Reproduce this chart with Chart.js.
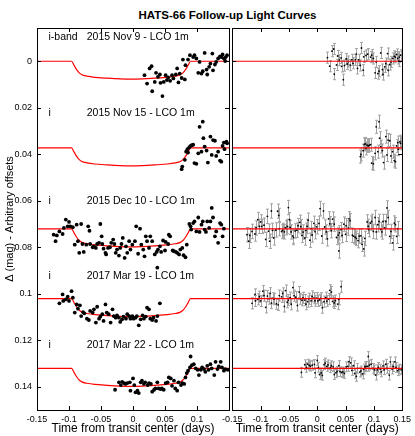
<!DOCTYPE html>
<html>
<head>
<meta charset="utf-8">
<script src="https://cdn.jsdelivr.net/npm/chart.js@4.4.1/dist/chart.umd.min.js"></script>
<style>
  html, body { margin: 0; padding: 0; background: #fff; overflow: hidden; }
  #wrap { position: relative; width: 415px; height: 436px; }
  #title {
    position: absolute; left: 117.5px; width: 220px; top: 8px;
    font: bold 11.5px "Liberation Sans", Arial, sans-serif; line-height: 14px;
    text-align: center; color: #000;
  }
  canvas { position: absolute; top: 0; }
  #lc { left: 0; }
  #rc { left: 218px; }
</style>
</head>
<body>
<div id="wrap">
  <div id="title">HATS-66 Follow-up Light Curves</div>
  <canvas id="lc" width="240" height="436"></canvas>
  <canvas id="rc" width="197" height="436"></canvas>
</div>
<script>
const xTicks = [-0.15, -0.1, -0.05, 0, 0.05, 0.1, 0.15]
const yTicks = [0, 0.02, 0.04, 0.06, 0.08, 0.1, 0.12, 0.14]

const bands = ['i-band', 'i', 'i', 'i', 'i']
const nights = ['2015 Nov 9 - LCO 1m', '2015 Nov 15 - LCO 1m', '2015 Dec 10 - LCO 1m', '2017 Mar 19 - LCO 1m', '2017 Mar 22 - LCO 1m']
const offsets = [0, 0.0373, 0.0721, 0.1021, 0.1321]
const labelY = [-0.0102, 0.0222, 0.0600, 0.0926, 0.1223]
// half size of the residual error bars, per night
const nightErr = [0.0024, 0.0028, 0.0031, 0.0024, 0.0021]

// transit model, depth below each night's baseline
const modelTime = [-0.15, -0.096, -0.092, -0.088, -0.084, -0.080, -0.072, -0.060, -0.040, -0.020, -0.003, 0.014, 0.034, 0.054, 0.066, 0.074, 0.078, 0.082, 0.086, 0.090, 0.15]
const modelDepth = [0, 0, 0.0018, 0.0036, 0.0050, 0.0058, 0.0064, 0.0069, 0.0073, 0.0076, 0.0077, 0.0076, 0.0073, 0.0069, 0.0064, 0.0058, 0.0050, 0.0036, 0.0018, 0, 0]

const nov9Time = [0.018, 0.022, 0.026, 0.029, 0.030, 0.034, 0.036, 0.039, 0.042, 0.043, 0.046, 0.048, 0.051, 0.053, 0.055, 0.058, 0.061, 0.063, 0.067, 0.069, 0.071, 0.073, 0.076, 0.078, 0.081, 0.082, 0.086, 0.089, 0.094, 0.096, 0.099, 0.102, 0.104, 0.107, 0.109, 0.112, 0.115, 0.116, 0.119, 0.121, 0.124, 0.125, 0.128, 0.130, 0.133, 0.136, 0.138, 0.140, 0.142, 0.145, 0.147, 0.144]
const nov9Mag = [0.0060, 0.0096, 0.0031, 0.0021, 0.0129, 0.0089, 0.0050, 0.0067, 0.0057, 0.0093, 0.0150, 0.0089, 0.0060, 0.0081, 0.0070, 0.0084, 0.0060, 0.0074, 0.0057, 0.0031, 0.0091, 0.0053, 0.0072, -0.0007, 0.0078, 0.0017, -0.0007, -0.0026, -0.0018, -0.0026, -0.0012, 0.0050, 0.0003, 0.0053, 0.0043, -0.0036, 0.0036, 0.0057, 0.0024, 0.0010, -0.0033, 0.0039, 0.0014, 0.0003, -0.0012, -0.0021, -0.0018, -0.0029, -0.0012, -0.0018, -0.0026, -0.0001]

const nov15Time = [0.076, 0.077, 0.081, 0.083, 0.085, 0.086, 0.088, 0.090, 0.092, 0.094, 0.096, 0.099, 0.102, 0.104, 0.107, 0.109, 0.110, 0.112, 0.115, 0.117, 0.121, 0.123, 0.125, 0.128, 0.130, 0.133, 0.136, 0.138, 0.140, 0.142, 0.143, 0.146, 0.147]
const nov15Mag = [0.0464, 0.0453, 0.0424, 0.0389, 0.0378, 0.0393, 0.0370, 0.0364, 0.0361, 0.0359, 0.0438, 0.0441, 0.0396, 0.0282, 0.0389, 0.0260, 0.0331, 0.0367, 0.0384, 0.0436, 0.0324, 0.0403, 0.0339, 0.0342, 0.0407, 0.0389, 0.0427, 0.0432, 0.0364, 0.0350, 0.0378, 0.0346, 0.0353]

const dec10Time = [-0.124, -0.121, -0.119, -0.115, -0.110, -0.108, -0.105, -0.102, -0.100, -0.098, -0.094, -0.091, -0.088, -0.086, -0.084, -0.081, -0.079, -0.077, -0.073, -0.070, -0.068, -0.067, -0.063, -0.061, -0.058, -0.056, -0.053, -0.051, -0.049, -0.048, -0.046, -0.043, -0.042, -0.039, -0.036, -0.034, -0.031, -0.029, -0.027, -0.025, -0.022, -0.020, -0.018, -0.016, -0.013, -0.011, -0.009, -0.006, -0.004, -0.001, 0.003, 0.005, 0.008, 0.011, 0.013, 0.016, 0.018, 0.020, 0.022, 0.025, 0.027, 0.030, 0.034, 0.037, 0.038, 0.039, 0.042, 0.044, 0.047, 0.050, 0.051, 0.055, 0.056, 0.058, 0.062, 0.064, 0.067, 0.069, 0.072, 0.074, 0.077, 0.079, 0.082, 0.084, 0.088, 0.090, 0.091, 0.094, 0.096, 0.099, 0.102, 0.104, 0.107, 0.109, 0.112, 0.114, 0.116, 0.119, 0.121, 0.123, 0.125, 0.128, 0.130, 0.133, 0.136, 0.138, 0.140, 0.142]
const dec10Mag = [0.0746, 0.0774, 0.0749, 0.0732, 0.0743, 0.0717, 0.0681, 0.0710, 0.0691, 0.0710, 0.0714, 0.0789, 0.0703, 0.0774, 0.0824, 0.0700, 0.0786, 0.0820, 0.0789, 0.0710, 0.0729, 0.0786, 0.0800, 0.0796, 0.0803, 0.0786, 0.0781, 0.0700, 0.0753, 0.0786, 0.0806, 0.0824, 0.0831, 0.0803, 0.0800, 0.0781, 0.0767, 0.0786, 0.0824, 0.0810, 0.0836, 0.0803, 0.0786, 0.0760, 0.0846, 0.0796, 0.0824, 0.0774, 0.0810, 0.0789, 0.0774, 0.0710, 0.0828, 0.0720, 0.0789, 0.0810, 0.0839, 0.0753, 0.0774, 0.0803, 0.0753, 0.0774, 0.0831, 0.0820, 0.0888, 0.0810, 0.0796, 0.0820, 0.0771, 0.0814, 0.0777, 0.0786, 0.0746, 0.0753, 0.0814, 0.0817, 0.0820, 0.0824, 0.0831, 0.0810, 0.0803, 0.0834, 0.0843, 0.0789, 0.0700, 0.0710, 0.0724, 0.0696, 0.0689, 0.0732, 0.0672, 0.0734, 0.0703, 0.0689, 0.0724, 0.0734, 0.0689, 0.0717, 0.0689, 0.0631, 0.0672, 0.0753, 0.0732, 0.0781, 0.0696, 0.0703, 0.0753, 0.0720]

const mar19Time = [-0.115, -0.110, -0.109, -0.105, -0.102, -0.100, -0.096, -0.094, -0.091, -0.088, -0.086, -0.083, -0.081, -0.078, -0.076, -0.072, -0.069, -0.067, -0.063, -0.061, -0.058, -0.056, -0.053, -0.051, -0.048, -0.046, -0.043, -0.041, -0.038, -0.035, -0.032, -0.030, -0.027, -0.025, -0.022, -0.020, -0.017, -0.015, -0.011, -0.009, -0.006, -0.004, -0.001, 0.001, 0.004, 0.006, 0.009, 0.012, 0.015, 0.017, 0.020, 0.022, 0.025, 0.027, 0.030, 0.032, 0.036, 0.038, 0.042]
const mar19Mag = [0.1041, 0.1003, 0.1031, 0.1024, 0.1013, 0.1031, 0.0989, 0.1017, 0.1081, 0.1046, 0.1064, 0.1050, 0.1096, 0.1079, 0.1084, 0.1107, 0.1113, 0.1074, 0.1081, 0.1067, 0.1124, 0.1056, 0.1107, 0.1098, 0.1088, 0.1117, 0.1046, 0.1081, 0.1088, 0.1124, 0.1067, 0.1096, 0.1103, 0.1093, 0.1103, 0.1121, 0.1110, 0.1098, 0.1107, 0.1088, 0.1096, 0.1107, 0.1096, 0.1107, 0.1103, 0.1096, 0.1136, 0.1110, 0.1093, 0.1107, 0.1098, 0.1060, 0.1067, 0.1107, 0.1113, 0.1103, 0.1117, 0.1096, 0.1041]

const mar22Time = [-0.028, -0.022, -0.019, -0.017, -0.014, -0.012, -0.009, -0.005, -0.004, 0.000, 0.002, 0.004, 0.007, 0.009, 0.012, 0.014, 0.017, 0.019, 0.023, 0.025, 0.028, 0.030, 0.033, 0.035, 0.038, 0.040, 0.043, 0.045, 0.048, 0.051, 0.054, 0.056, 0.059, 0.061, 0.064, 0.066, 0.069, 0.071, 0.075, 0.077, 0.080, 0.082, 0.084, 0.086, 0.089, 0.090, 0.092, 0.095, 0.098, 0.101, 0.103, 0.106, 0.108, 0.111, 0.113, 0.116, 0.118, 0.121, 0.123, 0.127, 0.129, 0.132, 0.134, 0.137, 0.139, 0.142, 0.144, 0.148]
const mar22Mag = [0.1413, 0.1381, 0.1393, 0.1379, 0.1384, 0.1388, 0.1384, 0.1381, 0.1417, 0.1364, 0.1393, 0.1424, 0.1417, 0.1427, 0.1381, 0.1374, 0.1388, 0.1381, 0.1393, 0.1384, 0.1388, 0.1421, 0.1413, 0.1407, 0.1381, 0.1407, 0.1410, 0.1407, 0.1413, 0.1384, 0.1381, 0.1360, 0.1364, 0.1396, 0.1374, 0.1407, 0.1417, 0.1381, 0.1393, 0.1384, 0.1388, 0.1360, 0.1341, 0.1331, 0.1317, 0.1270, 0.1307, 0.1303, 0.1321, 0.1327, 0.1350, 0.1327, 0.1317, 0.1324, 0.1336, 0.1310, 0.1327, 0.1303, 0.1321, 0.1350, 0.1293, 0.1324, 0.1313, 0.1293, 0.1317, 0.1331, 0.1324, 0.1327]

const nightTimes = [nov9Time, nov15Time, dec10Time, mar19Time, mar22Time]
const nightMags = [nov9Mag, nov15Mag, dec10Mag, mar19Mag, mar22Mag]

const FONT = '"Liberation Sans", Arial, sans-serif'
const tickFont = { family: FONT, size: 9 }
const fmt = v => String(+v.toFixed(2))

// model depth at time t, straight between the model nodes
function depthAt(t) {
  for (let i = 1; i < modelTime.length; i++) {
    if (t <= modelTime[i]) {
      const f = (t - modelTime[i - 1]) / (modelTime[i] - modelTime[i - 1])
      return modelDepth[i - 1] + f * (modelDepth[i] - modelDepth[i - 1])
    }
  }
  return 0
}

// frame with inward ticks on all four sides
const frameTicks = {
  id: 'frameTicks',
  afterDraw(chart) {
    const { ctx, chartArea: a, scales: { x, y } } = chart
    const L = 4
    ctx.save()
    ctx.strokeStyle = '#000'
    ctx.lineWidth = 1
    ctx.beginPath()
    xTicks.forEach(v => {
      const px = Math.round(x.getPixelForValue(v)) + 0.5
      ctx.moveTo(px, a.top); ctx.lineTo(px, a.top + L)
      ctx.moveTo(px, a.bottom); ctx.lineTo(px, a.bottom - L)
    })
    yTicks.forEach(v => {
      const py = Math.round(y.getPixelForValue(v)) + 0.5
      ctx.moveTo(a.left, py); ctx.lineTo(a.left + L, py)
      ctx.moveTo(a.right, py); ctx.lineTo(a.right - L, py)
    })
    ctx.stroke()
    ctx.strokeRect(Math.round(a.left) + 0.5, Math.round(a.top) + 0.5, Math.round(a.right - a.left), Math.round(a.bottom - a.top))
    ctx.restore()
  }
}

// band and night names inside the left panel
const nightLabels = {
  id: 'nightLabels',
  afterDatasetsDraw(chart) {
    const { ctx, scales: { x, y } } = chart
    ctx.save()
    ctx.fillStyle = '#000'
    ctx.font = '10.5px ' + FONT
    ctx.textBaseline = 'middle'
    ctx.textAlign = 'left'
    nights.forEach((n, i) => {
      const py = y.getPixelForValue(labelY[i])
      ctx.fillText(bands[i], x.getPixelForValue(-0.132), py)
      ctx.fillText(n, x.getPixelForValue(-0.0723), py)
    })
    ctx.restore()
  }
}

// gray error bars under the residual points
const errorBars = {
  id: 'errorBars',
  beforeDatasetsDraw(chart) {
    const { ctx, chartArea: a, scales: { x, y } } = chart
    ctx.save()
    ctx.beginPath()
    ctx.rect(a.left, a.top, a.right - a.left, a.bottom - a.top)
    ctx.clip()
    ctx.strokeStyle = '#a3a3a3'
    ctx.lineWidth = 1
    ctx.beginPath()
    chart.data.datasets.forEach(ds => {
      if (!ds.errorBars) return
      ds.data.forEach(p => {
        const px = Math.round(x.getPixelForValue(p.x)) + 0.5
        const y1 = y.getPixelForValue(p.y - p.err)
        const y2 = y.getPixelForValue(p.y + p.err)
        ctx.moveTo(px, y1); ctx.lineTo(px, y2)
        ctx.moveTo(px - 1.5, y1); ctx.lineTo(px + 1.5, y1)
        ctx.moveTo(px - 1.5, y2); ctx.lineTo(px + 1.5, y2)
      })
    })
    ctx.stroke()
    ctx.restore()
  }
}

function xScale(hideLast) {
  return {
    type: 'linear',
    min: -0.15,
    max: 0.15,
    afterBuildTicks: s => { s.ticks = xTicks.map(v => ({ value: v })) },
    afterFit: s => { s.height = 26 },
    grid: { display: false, drawTicks: false },
    border: { display: false },
    ticks: {
      font: tickFont, color: '#000', padding: 4, maxRotation: 0, autoSkip: false,
      callback: v => (hideLast && v === 0.15) ? '' : fmt(v)
    },
    title: {
      display: true, text: 'Time from transit center (days)', color: '#000',
      font: { family: FONT, size: 12 }, padding: { top: 0, bottom: 0 }
    }
  }
}

function yScale(show) {
  return {
    type: 'linear',
    reverse: true,
    min: -0.0143,
    max: 0.15,
    display: show,
    afterBuildTicks: s => { s.ticks = yTicks.map(v => ({ value: v })) },
    afterFit: s => { if (show) s.width = 37 },
    grid: { display: false, drawTicks: false },
    border: { display: false },
    ticks: { font: tickFont, color: '#000', padding: 5, autoSkip: false, callback: v => fmt(v) },
    title: {
      display: show, text: 'Δ (mag) - Arbitrary offsets', color: '#000',
      font: { family: FONT, size: 11 }, padding: { top: 3, bottom: 0 }
    }
  }
}

const leftSets = []
const rightSets = []
nightMags.forEach((mags, i) => {
  const base = offsets[i]
  leftSets.push({
    type: 'scatter', showLine: true, order: 2,
    data: modelTime.map((t, k) => ({ x: t, y: base + modelDepth[k] })),
    borderColor: '#ff0000', borderWidth: 1.2, pointRadius: 0,
    cubicInterpolationMode: 'monotone'
  })
  leftSets.push({
    type: 'scatter', order: 1,
    data: nightTimes[i].map((t, k) => ({ x: t, y: mags[k] })),
    pointRadius: 1.9, pointBackgroundColor: '#000', pointBorderWidth: 0
  })
  // residuals: each dot minus the model, kept on the night's baseline
  rightSets.push({
    type: 'scatter', order: 2, errorBars: true,
    data: nightTimes[i].map((t, k) => ({ x: t, y: mags[k] - depthAt(t), err: nightErr[i] })),
    pointRadius: 0.9, pointBackgroundColor: '#000', pointBorderWidth: 0
  })
  rightSets.push({
    type: 'scatter', showLine: true, order: 1,
    data: [{ x: -0.15, y: base }, { x: 0.15, y: base }],
    borderColor: '#ff0000', borderWidth: 1.2, pointRadius: 0
  })
})

const common = {
  responsive: false,
  animation: false,
  events: [],
  plugins: { legend: { display: false }, tooltip: { enabled: false } }
}

new Chart(document.getElementById('lc'), {
  type: 'scatter',
  data: { datasets: leftSets },
  options: {
    ...common,
    layout: { padding: { top: 28, right: 11, left: 0, bottom: 0 } },
    scales: { x: xScale(true), y: yScale(true) }
  },
  plugins: [frameTicks, nightLabels]
})

new Chart(document.getElementById('rc'), {
  type: 'scatter',
  data: { datasets: rightSets },
  options: {
    ...common,
    layout: { padding: { top: 28, right: 10, left: 11.5, bottom: 0 } },
    scales: { x: xScale(false), y: yScale(false) }
  },
  plugins: [errorBars, frameTicks]
})
</script>
</body>
</html>
